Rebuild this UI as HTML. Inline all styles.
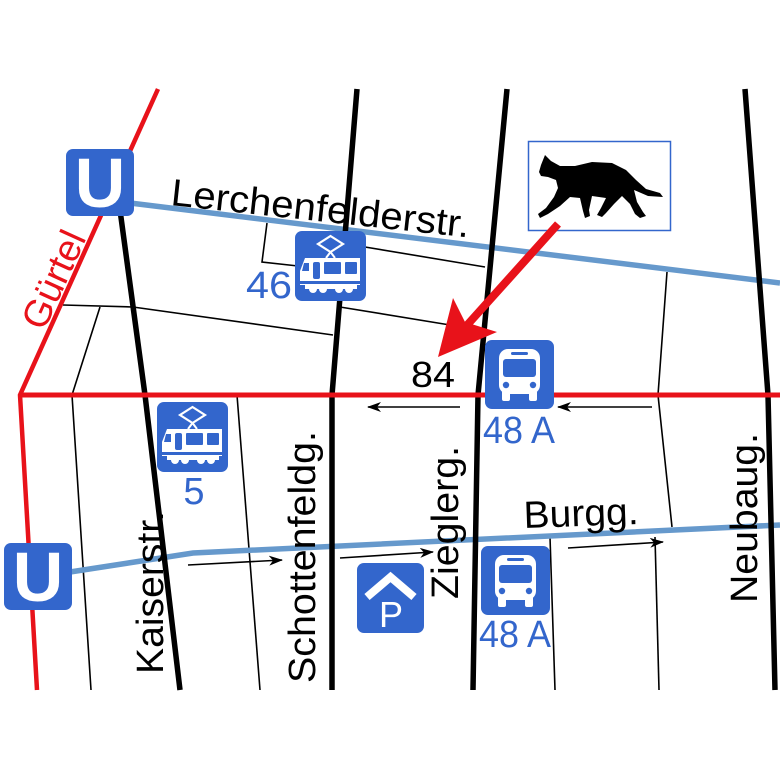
<!DOCTYPE html>
<html><head><meta charset="utf-8"><style>html,body{margin:0;padding:0;background:#fff}svg{display:block}</style></head>
<body>
<svg width="780" height="780" viewBox="0 0 780 780" xmlns="http://www.w3.org/2000/svg" font-family="Liberation Sans, Arial, sans-serif">
<defs>
<g id="tram">
<rect x="0" y="0" width="71" height="70" rx="7" fill="#3366cc"/>
<polygon points="35.5,5 48,13 35.5,21 23,13" fill="none" stroke="#fff" stroke-width="2.2"/>
<path d="M35.5,21 L31,27 M35.5,21 L40,27" stroke="#fff" stroke-width="2"/>
<path d="M10,27 H65 V54 H5 V40 Z" fill="#fff"/>
<rect x="18" y="31" width="7" height="17" rx="2" fill="#3366cc"/>
<rect x="29" y="31" width="17" height="12" rx="1" fill="#3366cc"/>
<rect x="50" y="31" width="12" height="12" rx="1" fill="#3366cc"/>
<path d="M9,32 L14,32 L14,40 L7,40 Z" fill="#3366cc"/>
<rect x="4" y="50" width="63" height="3" fill="#3366cc"/>
<circle cx="18" cy="58" r="4" fill="#fff"/><circle cx="28" cy="58" r="4" fill="#fff"/>
<circle cx="44" cy="58" r="4" fill="#fff"/><circle cx="54" cy="58" r="4" fill="#fff"/>
<rect x="10" y="54" width="52" height="4" fill="#fff"/>
</g>
<g id="bus">
<rect x="0" y="0" width="69" height="69" rx="7" fill="#3366cc"/>
<rect x="14" y="9" width="41" height="45" rx="9" fill="#fff"/>
<rect x="26" y="12" width="17" height="3" rx="1.5" fill="#3366cc"/>
<rect x="18" y="19" width="33" height="18" rx="3" fill="#3366cc"/>
<circle cx="21" cy="45" r="3.2" fill="#3366cc"/><circle cx="48" cy="45" r="3.2" fill="#3366cc"/>
<rect x="17" y="50" width="8" height="11" rx="2" fill="#fff"/><rect x="44" y="50" width="8" height="11" rx="2" fill="#fff"/>
</g>
<g id="ubahn">
<rect x="0" y="0" width="68" height="67" rx="7" fill="#3366cc"/>
<text x="34" y="58" font-size="70" font-weight="bold" fill="#fff" text-anchor="middle">U</text>
</g>
<marker id="ah" markerWidth="14" markerHeight="10" refX="13" refY="5" orient="auto" markerUnits="userSpaceOnUse">
<path d="M0,0 L14,5 L0,10 L4,5 Z" fill="#000"/>
</marker>
</defs>

<g stroke="#000" stroke-width="1.6" fill="none">
<path d="M63,305 L133,307 L333,335"/>
<path d="M340,307 L450,325"/>
<path d="M100,307 L72,395 L91,690"/>
<path d="M237,395 L260,690"/>
<path d="M267,223 L262,262 L298,266"/>
<path d="M365,247 L485,267"/>
<path d="M667,272 L658,395 L672,527"/>
<path d="M655,537 L659,690"/>
<path d="M550,537 L555,690"/>
</g>

<g stroke="#6699cc" stroke-width="5.5" fill="none">
<path d="M130,203 L780,283"/>
<path d="M70,572 L193,553 L780,525"/>
</g>

<g stroke="#000" stroke-width="5.5" fill="none">
<path d="M120,210 L145,395 L180,690"/>
<path d="M357,89 L332,395 L332,690"/>
<path d="M507,89 L478,395 L473,690"/>
<path d="M745,89 L768,395 L775,690"/>
</g>

<g stroke="#e8121a" stroke-width="4.5" fill="none">
<path d="M158,89 L20,395 L37,690"/>
<path d="M20,395 H780" stroke-width="5"/>
</g>

<g stroke="#000" stroke-width="1.6" marker-end="url(#ah)">
<line x1="460" y1="407" x2="368" y2="407"/>
<line x1="652" y1="407" x2="558" y2="407"/>
<line x1="188" y1="565" x2="282" y2="560"/>
<line x1="340" y1="558" x2="433" y2="552"/>
<line x1="568" y1="548" x2="663" y2="542"/>
</g>

<use href="#ubahn" x="66" y="149"/>
<use href="#ubahn" x="4" y="543"/>
<use href="#tram" x="295" y="231"/>
<use href="#tram" x="157" y="402"/>
<use href="#bus" x="485" y="340"/>
<use href="#bus" x="481" y="546"/>
<g transform="translate(357,563)">
<rect x="0" y="0" width="67" height="70" rx="7" fill="#3366cc"/>
<polyline points="10,34 33.5,14 57,34" fill="none" stroke="#fff" stroke-width="8"/>
<text x="34" y="64" font-size="36" fill="#fff" text-anchor="middle">P</text>
</g>

<rect x="528.5" y="141.5" width="142" height="89" fill="#fff" stroke="#3366cc" stroke-width="1.5"/>
<path d="M539,172 L541,165 L545,155 L551,161 L560,166 L575,166 L592,162 L612,163 L626,170 L636,180 L646,189 L660,193 L663,197 L648,196 L634,190 L637,202 L643,212 L646,216 L640,218 L635,214 L630,204 L622,196 L614,204 L606,213 L602,217 L597,215 L601,208 L606,198 L592,196 L589,210 L590,216 L585,218 L583,211 L580,198 L570,197 L560,206 L548,214 L540,218 L538,214 L546,208 L554,197 L558,188 L556,180 L548,177 L541,176 Z" fill="#000"/>

<line x1="558" y1="224" x2="460" y2="333" stroke="#e8121a" stroke-width="8"/>
<path d="M438,357 L453,298 L465,322 L497,332 Z" fill="#e8121a"/>

<g font-size="38" fill="#000">
<text transform="translate(170,205) rotate(6.2)" font-size="38" textLength="300" lengthAdjust="spacingAndGlyphs">Lerchenfelderstr.</text>
<text transform="translate(163,674) rotate(-90)" textLength="163" lengthAdjust="spacingAndGlyphs">Kaiserstr.</text>
<text transform="translate(315,683) rotate(-90)" textLength="252" lengthAdjust="spacingAndGlyphs">Schottenfeldg.</text>
<text transform="translate(458,599) rotate(-90)" textLength="153" lengthAdjust="spacingAndGlyphs">Zieglerg.</text>
<text transform="translate(757,603) rotate(-90)" textLength="170" lengthAdjust="spacingAndGlyphs">Neubaug.</text>
<text transform="translate(524,528) rotate(-2)" textLength="115" lengthAdjust="spacingAndGlyphs">Burgg.</text>
<text x="411" y="387" font-size="36" textLength="44" lengthAdjust="spacingAndGlyphs">84</text>
</g>
<text transform="translate(44,332) rotate(-65.6)" font-size="38" fill="#e8121a">Gürtel</text>
<g fill="#3366cc" font-size="38">
<text x="246" y="298" textLength="46" lengthAdjust="spacingAndGlyphs">46</text>
<text x="194" y="504" text-anchor="middle">5</text>
<text x="483" y="443" textLength="72" lengthAdjust="spacingAndGlyphs">48 A</text>
<text x="479" y="647" textLength="72" lengthAdjust="spacingAndGlyphs">48 A</text>
</g>
</svg>
</body></html>
